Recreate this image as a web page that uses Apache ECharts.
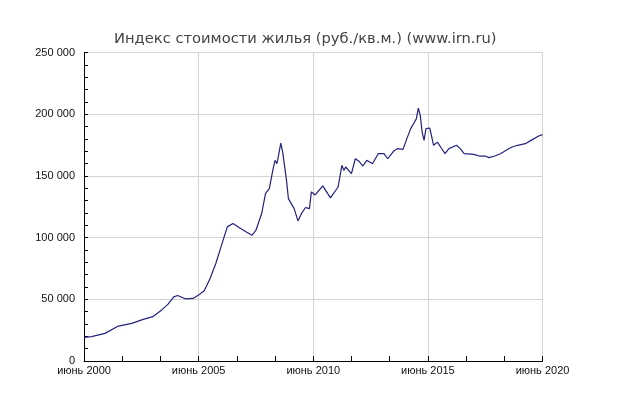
<!DOCTYPE html>
<html>
<head>
<meta charset="utf-8">
<script src="https://cdn.jsdelivr.net/npm/echarts@6/dist/echarts.min.js"></script>
<style>
  html, body { margin: 0; padding: 0; background: #fff; }
  #chart { width: 640px; height: 405px; }
</style>
</head>
<body>
<div id="chart"></div>
<script>
// данные (руб./кв.м.)
const dates = [
  '2000-06', '2000-10', '2001-05', '2001-12', '2002-07', '2003-01', '2003-06', '2003-11',
  '2004-02', '2004-05', '2004-07', '2004-11', '2005-03', '2005-06', '2005-09', '2005-12',
  '2006-03', '2006-06', '2006-09', '2006-12', '2007-04', '2007-07', '2007-10', '2007-12',
  '2008-03', '2008-05', '2008-07', '2008-09', '2008-10', '2008-11', '2008-12', '2009-01',
  '2009-02', '2009-04', '2009-05', '2009-08', '2009-10', '2009-12', '2010-02', '2010-04',
  '2010-05', '2010-07', '2010-11', '2011-03', '2011-07', '2011-09', '2011-10', '2011-11',
  '2012-02', '2012-04', '2012-06', '2012-08', '2012-10', '2013-01', '2013-04', '2013-05',
  '2013-07', '2013-09', '2013-12', '2014-02', '2014-03', '2014-05', '2014-07', '2014-09',
  '2014-10', '2014-11', '2014-12', '2015-01', '2015-02', '2015-03', '2015-04', '2015-05',
  '2015-07', '2015-08', '2015-09', '2015-11', '2016-01', '2016-03', '2016-05', '2016-09',
  '2016-11', '2017-01', '2017-06', '2017-09', '2017-12', '2018-02', '2018-05', '2018-08',
  '2018-11', '2019-02', '2019-05', '2019-09', '2019-12', '2020-04', '2020-06'
];
const prices = [
  19200, 19700, 22400, 28300, 30500, 33700, 35900, 41800,
  46100, 52000, 53100, 50400, 50700, 53400, 57200, 66900,
  79000, 93900, 108700, 111400, 107400, 104600, 101900, 106000,
  119500, 135700, 139700, 155900, 162600, 159900, 168000, 176600,
  169300, 146400, 131600, 123500, 113500, 120000, 124400, 123500,
  137000, 134600, 141900, 132200, 141000, 158600, 154500, 157200,
  151800, 163900, 161800, 158000, 162600, 159900, 168000, 166700,
  168000, 163900, 169900, 172100, 173400, 171500, 180200, 188300,
  190900, 189600, 196400, 205000, 199000, 185500, 178800, 188300,
  188800, 187700, 174800, 177400, 172600, 168000, 172100, 174800,
  172100, 168000, 167500, 166100, 166100, 164800, 166100, 168000,
  170700, 173400, 174800, 176100, 178800, 182300, 183400
];
const titleText = 'Индекс стоимости жилья (руб./кв.м.) (www.irn.ru)';
const monthName = 'июнь';

// номер месяца от июня 2000
function monthIndex(d) {
  let p = d.split('-');
  return (Number(p[0]) - 2000) * 12 + (Number(p[1]) - 6);
}

const seriesData = dates.map((d, i) => [monthIndex(d), prices[i]]);

const chart = echarts.init(document.getElementById('chart'));
chart.setOption({
  backgroundColor: '#fff',
  animation: false,
  title: {
    text: titleText,
    left: 109,
    top: 27,
    textStyle: {
      fontFamily: 'DejaVu Sans',
      fontSize: 14.7,
      fontWeight: 'normal',
      color: '#444'
    }
  },
  grid: {
    left: 84,
    right: 97.5,
    top: 52.5,
    bottom: 44
  },
  xAxis: {
    type: 'value',
    min: 0,
    max: 240,
    interval: 60,
    axisLine: { show: true, lineStyle: { color: '#000', width: 1 } },
    axisTick: { show: true, inside: true, length: 5, lineStyle: { color: '#000' } },
    minorTick: { show: true, splitNumber: 3, length: 5, lineStyle: { color: '#000' } },
    splitLine: { show: true, lineStyle: { color: '#d4d4d4', width: 1 } },
    axisLabel: {
      margin: 4,
      fontFamily: 'Liberation Sans',
      fontSize: 11,
      color: '#111',
      formatter: v => monthName + ' ' + (2000 + v / 12)
    }
  },
  yAxis: {
    type: 'value',
    min: 0,
    max: 250000,
    interval: 50000,
    axisLine: { show: true, lineStyle: { color: '#000', width: 1 } },
    axisTick: { show: true, inside: true, length: 4, lineStyle: { color: '#000' } },
    minorTick: { show: true, splitNumber: 5, length: 4, lineStyle: { color: '#000' } },
    splitLine: { show: true, lineStyle: { color: '#d4d4d4', width: 1 } },
    axisLabel: {
      margin: 9,
      fontFamily: 'Liberation Sans',
      fontSize: 11,
      color: '#111',
      formatter: v => v === 0 ? '0' : (v / 1000) + ' 000'
    }
  },
  series: [{
    type: 'line',
    data: seriesData,
    showSymbol: false,
    smooth: false,
    lineStyle: { color: '#22227e', width: 1.2 },
    itemStyle: { color: '#22227e' }
  }]
});
</script>
</body>
</html>
